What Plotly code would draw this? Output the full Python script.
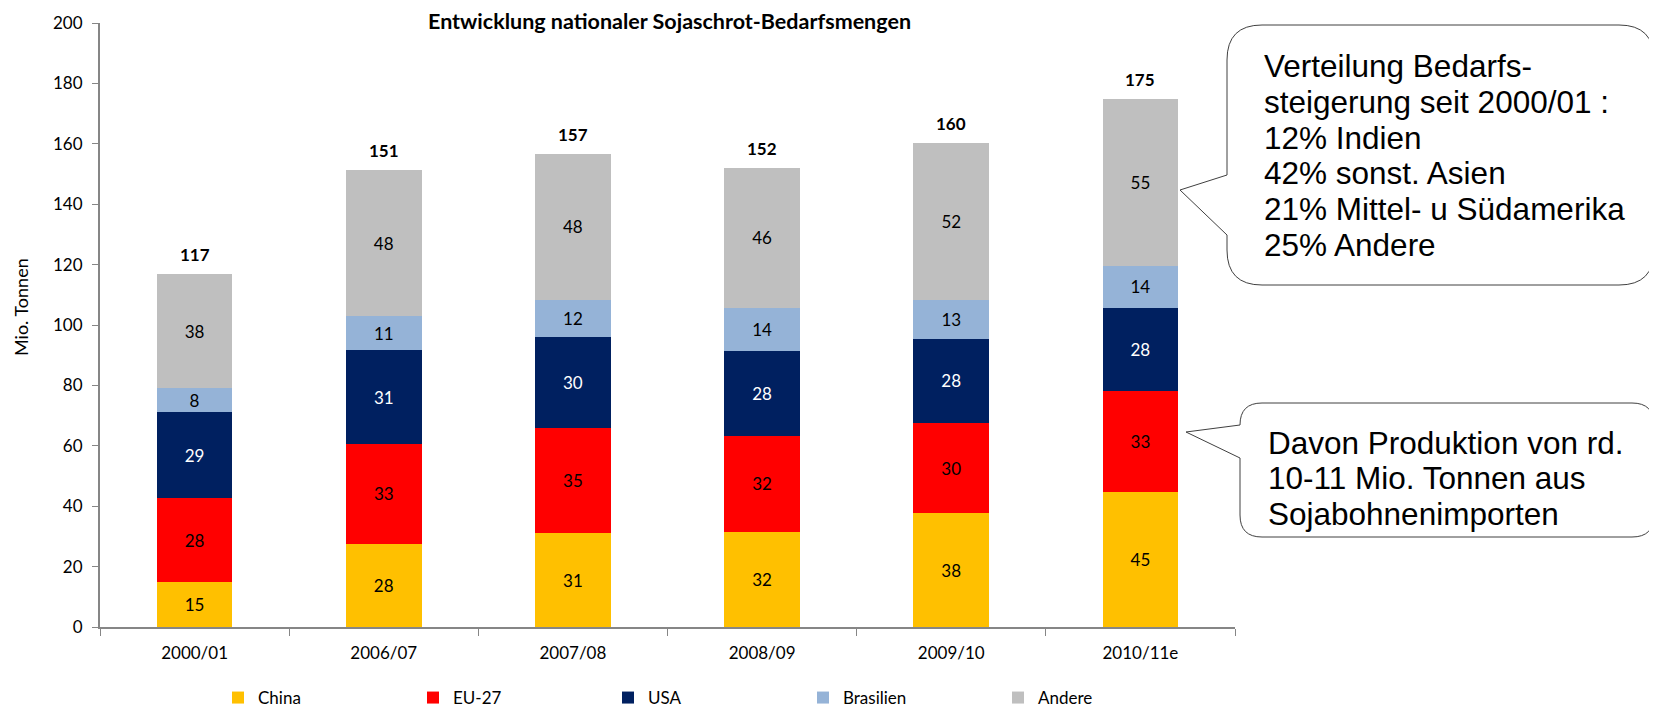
import plotly.graph_objects as go

# ---------------- data ----------------
categories = ["2000/01", "2006/07", "2007/08", "2008/09", "2009/10", "2010/11e"]
series_names = ["China", "EU-27", "USA", "Brasilien", "Andere"]
china = [15.0, 27.6, 31.0, 31.6, 37.6, 44.8]
eu27 = [27.6, 33.1, 34.9, 31.8, 30.0, 33.3]
usa = [28.7, 30.9, 30.1, 27.9, 27.8, 27.6]
brasilien = [7.7, 11.4, 12.3, 14.4, 13.0, 13.8]
andere = [38.0, 48.2, 48.4, 46.4, 52.0, 55.2]
y_ticks = [0, 20, 40, 60, 80, 100, 120, 140, 160, 180, 200]

title_text = "Entwicklung nationaler Sojaschrot-Bedarfsmengen"
bubble1_lines = ["Verteilung Bedarfs-", "steigerung seit 2000/01 :", "12% Indien",
                 "42% sonst. Asien", "21% Mittel- u Südamerika", "25% Andere"]
bubble2_lines = ["Davon Produktion von rd.", "10-11 Mio. Tonnen aus", "Sojabohnenimporten"]

colors = ["#FFC000", "#FF0000", "#002060", "#95B3D7", "#BFBFBF"]
label_colors = ["#000000", "#000000", "#FFFFFF", "#000000", "#000000"]
values = [china, eu27, usa, brasilien, andere]
totals = [sum(v) for v in zip(*values)]

FONT = "Lato"
OFF = 8  # page body margin
W, H = 1657 - OFF, 709 - OFF
# plot area in page pixels
L, R, T, B = 100, 1235, 23, 627
PW, PH = R - L, B - T


def px(x):
    return (x - L) / PW


def py(y):
    return (B - y) / PH


fig = go.Figure()
for name, vals, col, lcol in zip(series_names, values, colors, label_colors):
    fig.add_trace(go.Bar(
        name=name, x=categories, y=vals,
        marker=dict(color=col, line=dict(width=0)),
        texttemplate="%{y:.0f}", textposition="inside", insidetextanchor="middle",
        textangle=0,
        textfont=dict(family=FONT, size=17, color=lcol),
        hoverinfo="x+y+name",
    ))

annotations = []
for cat, tot in zip(categories, totals):
    annotations.append(dict(
        x=cat, y=tot, xref="x", yref="y", text=f"<b>{tot:.0f}</b>",
        showarrow=False, yanchor="bottom", yshift=7,
        font=dict(family=FONT, size=17, color="#000000")))


def bubble(l, t, r, b, rad, tip, y1, y2):
    pts = []
    pts.append(f"M {px(l+rad)},{py(t)}")
    pts.append(f"L {px(r-rad)},{py(t)}")
    pts.append(f"Q {px(r)},{py(t)} {px(r)},{py(t+rad)}")
    pts.append(f"L {px(r)},{py(b-rad)}")
    pts.append(f"Q {px(r)},{py(b)} {px(r-rad)},{py(b)}")
    pts.append(f"L {px(l+rad)},{py(b)}")
    pts.append(f"Q {px(l)},{py(b)} {px(l)},{py(b-rad)}")
    pts.append(f"L {px(l)},{py(y2)}")
    pts.append(f"L {px(tip[0])},{py(tip[1])}")
    pts.append(f"L {px(l)},{py(y1)}")
    pts.append(f"L {px(l)},{py(t+rad)}")
    pts.append(f"Q {px(l)},{py(t)} {px(l+rad)},{py(t)}")
    pts.append("Z")
    return dict(type="path", xref="paper", yref="paper", path=" ".join(pts),
                line=dict(color="#404040", width=1), fillcolor="rgba(255,255,255,0)",
                layer="above")


shapes = [
    bubble(1227, 25, 1654, 285, 35, (1180, 190), 175, 235),
    bubble(1240, 403, 1654, 537, 22, (1186, 432), 425, 458),
]

annotations.append(dict(
    text=f"<b>{title_text}</b>", xref="paper", yref="paper",
    x=px(669), y=py(21), xanchor="center", yanchor="middle", showarrow=False,
    borderpad=0,
    font=dict(family=FONT, size=21.5, color="#000000")))
annotations.append(dict(
    text="Mio. Tonnen", xref="paper", yref="paper", x=px(21), y=py(307),
    xanchor="center", yanchor="middle", textangle=-90, showarrow=False,
    font=dict(family=FONT, size=18, color="#000000")))
for i, line in enumerate(bubble1_lines):
    annotations.append(dict(
        text=line, xref="paper", yref="paper", x=px(1262), y=py(66 + i * 35.8),
        xanchor="left", yanchor="middle", showarrow=False,
        font=dict(family="Liberation Sans", size=31.5, color="#000000")))
for i, line in enumerate(bubble2_lines):
    annotations.append(dict(
        text=line, xref="paper", yref="paper", x=px(1266), y=py(443 + i * 35.3),
        xanchor="left", yanchor="middle", showarrow=False,
        font=dict(family="Liberation Sans", size=31.5, color="#000000")))

fig.update_layout(
    width=W, height=H,
    margin=dict(l=L - OFF, r=W - (R - OFF), t=T - OFF, b=H - (B - OFF), autoexpand=False),
    paper_bgcolor="white", plot_bgcolor="white",
    barmode="stack", bargap=0.6,
    font=dict(family=FONT, size=17, color="#000000"),
    uniformtext=dict(minsize=17, mode="show"),
    showlegend=True,
    legend=dict(orientation="h", x=px(218), y=py(698), xanchor="left", yanchor="middle",
                traceorder="normal", entrywidth=150, entrywidthmode="pixels",
                font=dict(family=FONT, size=17, color="#000000"),
                bgcolor="rgba(0,0,0,0)"),
    xaxis=dict(showline=True, linecolor="#868686", linewidth=2, ticks="outside",
               tickson="boundaries", ticklen=7, tickcolor="#868686", tickwidth=1,
               ticklabelstandoff=10,
               showgrid=False, tickfont=dict(family=FONT, size=17, color="#000000")),
    yaxis=dict(range=[0, 200], tickvals=y_ticks, showline=True, linecolor="#868686",
               linewidth=2, ticks="outside", ticklen=6, tickcolor="#868686", tickwidth=1,
               ticklabelstandoff=6,
               showgrid=False, zeroline=False,
               tickfont=dict(family=FONT, size=17, color="#000000")),
    shapes=shapes, annotations=annotations,
)

fig.write_html("out.html")
